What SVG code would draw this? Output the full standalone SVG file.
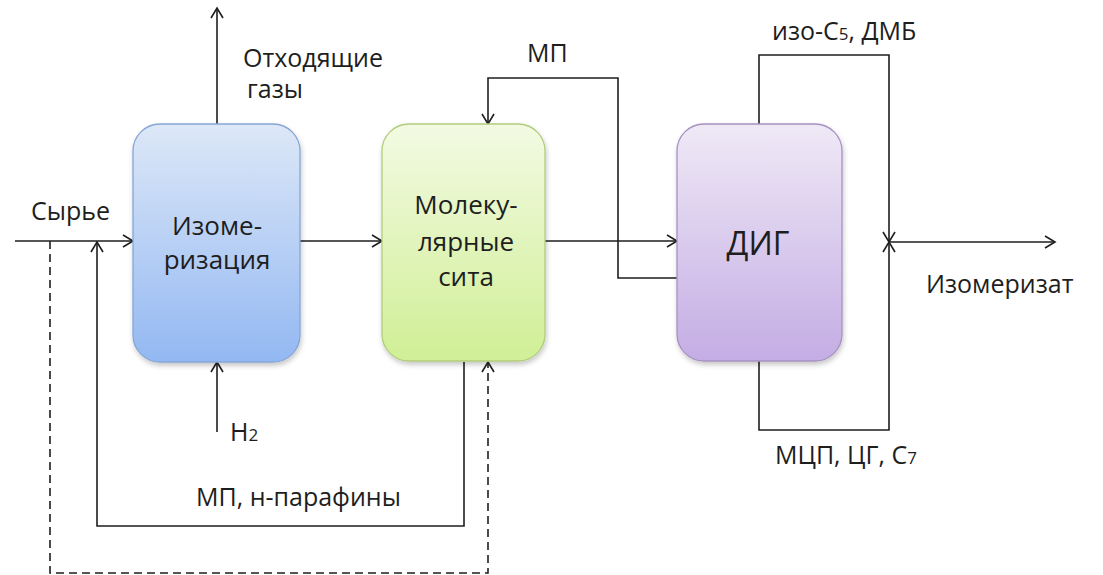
<svg xmlns="http://www.w3.org/2000/svg" width="1103" height="575" viewBox="0 0 1103 575">
<style>
  .ln{fill:none;stroke:#1e1e1e;stroke-width:1.6}
  .arr{marker-end:url(#ah)}
  .dash{stroke-dasharray:8,5}
  .t{font-family:"Open Sans","Liberation Sans",sans-serif;fill:#1e1e1e}
  .lbl{font-size:25px}
  .box-t{font-size:26px;text-anchor:middle}
  .node{stroke-width:1.3}
</style>
<defs>
  <marker id="ah" markerWidth="14" markerHeight="14" refX="12" refY="7" orient="auto" markerUnits="userSpaceOnUse">
    <path d="M2,1 L12,7 L2,13" fill="none" stroke="#1e1e1e" stroke-width="1.6"/>
  </marker>
  <linearGradient id="gB" x1="0" y1="0" x2="0" y2="1">
    <stop offset="0" stop-color="#dde8f7"/>
    <stop offset="1" stop-color="#93b8f2"/>
  </linearGradient>
  <linearGradient id="gG" x1="0" y1="0" x2="0" y2="1">
    <stop offset="0" stop-color="#f3fae3"/>
    <stop offset="1" stop-color="#d0ef96"/>
  </linearGradient>
  <linearGradient id="gP" x1="0" y1="0" x2="0" y2="1">
    <stop offset="0" stop-color="#efe9f6"/>
    <stop offset="1" stop-color="#c4ade4"/>
  </linearGradient>
  <filter id="sh" x="-10%" y="-10%" width="130%" height="130%">
    <feDropShadow dx="1" dy="3" stdDeviation="2.5" flood-color="#000" flood-opacity="0.22"/>
  </filter>
</defs>
<rect width="1103" height="575" fill="#ffffff"/>

<g id="connectors">
  <path class="ln arr" d="M15,241 H133"/>
  <path class="ln arr" d="M217,124 V8"/>
  <path class="ln arr" d="M217,432 V362"/>
  <path class="ln arr" d="M300,241 H382"/>
  <path class="ln arr" d="M545,241 H677"/>
  <path class="ln arr" d="M677,278 H618 V78 H488 V124"/>
  <path class="ln arr" d="M464,362 V526 H97 V242"/>
  <path class="ln arr dash" d="M50,241 V573 H488 V362"/>
  <path class="ln arr" d="M759,124 V55 H889 V242"/>
  <path class="ln arr" d="M759,361 V430 H889 V242"/>
  <path class="ln arr" d="M889,242 H1055"/>
</g>

<g id="node-isomerization">
  <rect class="node" x="133" y="124" width="167" height="238" rx="27" fill="url(#gB)" stroke="#86a6d6" filter="url(#sh)"/>
  <text class="t box-t" x="217" y="235">Изоме-</text>
  <text class="t box-t" x="217" y="269">ризация</text>
</g>

<g id="node-sieves">
  <rect class="node" x="382" y="124" width="163" height="237" rx="27" fill="url(#gG)" stroke="#b2cc7c" filter="url(#sh)"/>
  <text class="t box-t" x="466" y="214">Молеку-</text>
  <text class="t box-t" x="466" y="251">лярные</text>
  <text class="t box-t" x="466" y="286">сита</text>
</g>

<g id="node-dig">
  <rect class="node" x="677" y="124" width="165" height="237" rx="27" fill="url(#gP)" stroke="#a592c0" filter="url(#sh)"/>
  <text class="t" x="758" y="255" font-size="32" text-anchor="middle">ДИГ</text>
</g>

<g id="labels">
  <text class="t lbl" x="31" y="220">Сырье</text>
  <text class="t lbl" x="243" y="67">Отходящие</text>
  <text class="t lbl" x="247" y="98">газы</text>
  <text class="t lbl" x="230" y="441">Н<tspan font-size="17">2</tspan></text>
  <text class="t lbl" x="527" y="62">МП</text>
  <text class="t lbl" x="196" y="506">МП, н-парафины</text>
  <text class="t lbl" x="772" y="40">изо-С<tspan font-size="17">5</tspan>, ДМБ</text>
  <text class="t lbl" x="775" y="464">МЦП, ЦГ, С<tspan font-size="17">7</tspan></text>
  <text class="t lbl" x="926" y="293">Изомеризат</text>
</g>
</svg>
